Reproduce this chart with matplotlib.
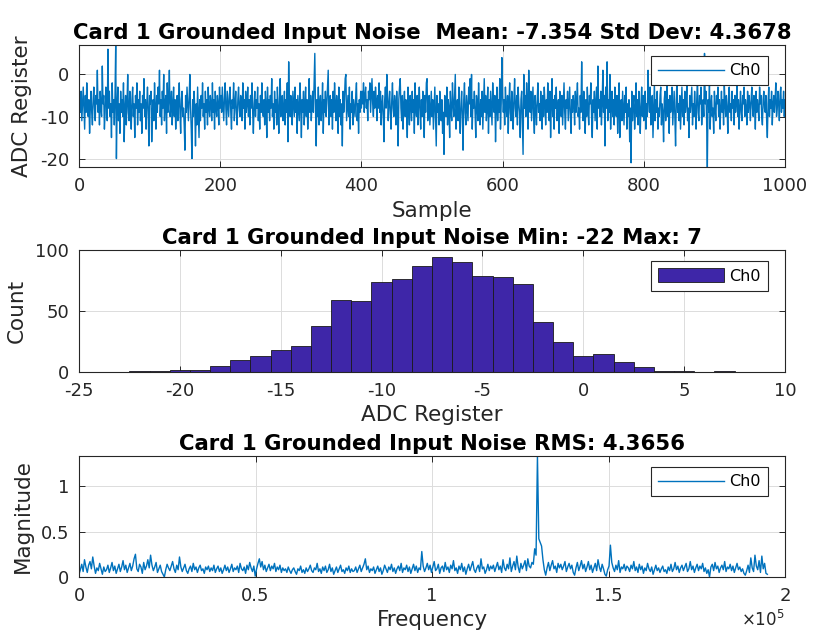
import numpy as np
import matplotlib
matplotlib.use('Agg')
import matplotlib.pyplot as plt
from matplotlib.ticker import FuncFormatter

plt.rcParams['font.family'] = ['DejaVu Sans']
plt.rcParams['axes.unicode_minus'] = False

# ---- data ----
fs = 390000
n_samples = 1000

# ADC register readings (sample 1..1000)
ch0_samples = [
    -6, -9, -4, -11, -7, -3, -8, -13, -5, -9, -2, -7, -10, -6, -14, -8, -4, -9, -12, -6,
    -3, -8, -11, -5, -7, 1, -9, -6, -12, -4, -8, -10, 2, -7, -5, -13, -9, -3, -6, -11,
    6, -8, -4, -10, -7, -15, -2, -9, -6, -12, -5, 7, -20, -8, -3, -11, -7, -14, -4, -9,
    -6, -10, -2, -16, -8, -5, -12, -7, 0, -9, -11, -4, -8, -13, -6, -3, -10, -7, -15, -5,
    -8, -2, -12, -6, -9, -4, -11, -7, -14, -5, -8, -1, -10, -6, -13, -7, -3, -9, -17, -5,
    -7, -4, -16, -9, -6, -11, -2, -8, -13, -5, -9, -3, -7, 1, -10, -6, -12, -4, -8, 0,
    -11, -7, -5, -14, -2, -9, -6, 1, -10, -8, -4, -12, -7, -3, -10, -6, -13, -8, -5, -11,
    -7, -2, -9, -14, -6, -4, -10, -8, -12, -18, -5, -9, -3, -7, -11, -6, 0, -8, -13, -20,
    -6, -10, -4, -8, -17, -7, -12, -3, -9, -15, -6, -11, -5, -8, -2, -10, -7, -13, -4, -9,
    -6, -12, -3, -8, -10, -5, -7, -11, -2, -9, -6, -13, -4, -8, -10, -5, -7, -12, -3, -8,
    -5, -9, -3, -7, -11, -6, -2, -8, -12, -4, -7, -10, -5, -3, -9, -13, -6, -8, -2, -11,
    -7, -4, -9, -12, -6, -3, -8, -10, -5, -7, -11, -2, -8, -6, -13, -4, -9, -7, -3, -10,
    -6, -12, -5, -8, -2, -9, -14, -7, -4, -10, -6, -8, -3, -11, -7, -13, -5, -9, -2, -8,
    -10, -6, -12, -4, -7, -15, -3, -9, -6, -11, -5, -8, -1, -10, -7, -13, -4, -9, -6, -12,
    -3, -8, -14, -6, -1, -10, -7, -5, -11, -8, -4, -12, -6, -9, -2, -16, 3, -7, -10, -5,
    -8, -12, -4, -7, -10, -3, -9, -6, -14, -5, -8, -11, -2, -7, -15, -6, -9, -4, -12, -7,
    -3, -10, -6, -13, -8, -1, -9, -5, -11, -7, -4, -9, -2, 5, -8, -17, -6, -10, -3, -12,
    -7, -5, -11, -8, -2, -14, -6, -9, -4, -10, -7, -3, 1, -12, -8, -5, -10, -6, -13, -4,
    -9, -2, -7, -11, -5, -8, -14, -3, -10, -6, -12, -7, -17, -4, -9, -6, -1, 0, -11, -8,
    -5, -10, -3, -13, -7, -9, -4, -12, -6, -8, -10, -5, -2, -11, -7, -14, -6, -9, -4, -8,
    -4, -7, -2, -9, -5, -3, -8, -6, -11, -4, -6, -2, -9, -5, -1, -7, -10, -4, -8, -3,
    -6, -11, -5, -8, -2, -9, -4, -12, -7, -5, -10, -16, -6, -3, -8, 0, -5, -11, -7, -4,
    -9, -13, -6, -2, -8, -10, -5, -7, -12, -4, -9, -17, -6, -3, -1, -8, -11, -5, -13, -7,
    -4, -10, -6, -9, -15, -3, -8, -12, -5, -7, -11, -4, -9, -6, -14, -2, -8, -10, -5, -12,
    -7, -3, -9, -13, -6, -10, -4, -8, -15, -5, -9, -2, -1, -11, -7, -5, -12, -8, -4, -10,
    -6, -13, -8, -3, -10, -17, -5, -9, -7, -12, -4, -8, -11, -6, -14, -9, -19, -5, -7, -10,
    -3, -12, -6, -8, -15, -4, -9, -11, -2, -7, -10, -5, 0, -13, -8, -6, -11, -3, -9, -14,
    -7, -4, -10, -18, -6, -2, -9, -12, -5, -8, -11, -3, -7, -1, -10, 0, -13, -6, -8, -4,
    -9, -15, -5, -7, -11, -2, -8, -12, -6, -10, -4, -13, -7, -1, -9, -5, -11, -8, -3, -14,
    -6, -10, -4, -8, -12, -2, -7, -9, -5, -16, -8, -3, -11, -6, -9, -1, -13, -7, 4, -5,
    -9, -6, -12, -3, -8, -10, -5, -14, -7, -2, -9, -11, -4, -7, -13, -6, -1, -8, -10, -5,
    -12, -3, -7, -9, -15, -6, -4, -11, -19, 0, -8, -5, -10, -2, -7, -13, 1, -6, -9, -4,
    -11, -7, -3, -10, -14, -5, -8, -12, -6, -2, -9, -7, -11, -4, -8, -13, -5, -10, -3, -7,
    -12, -6, -9, -2, -8, -11, -4, -15, -7, -1, -10, -6, -13, -5, -8, -3, -11, -9, -6, -14,
    -4, -8, -10, -5, -12, -7, -2, -9, -13, -6, -8, -4, -11, -7, -3, -10, -14, -6, -9, -5,
    -7, -12, -4, -9, -6, -2, -10, -8, -13, -5, -9, 3, -7, -11, -4, -8, -14, -6, -10, -3,
    -8, -12, -5, -7, -2, -10, -15, -6, -9, -4, -11, -7, -3, -13, 2, -8, -6, -10, -4, -12,
    -7, 1, -9, -5, -17, -3, -8, 3, -11, -6, -9, 0, -13, -7, -4, -10, -6, -12, -3, -8,
    -10, -5, -14, -7, -2, -15, -9, -6, -11, -4, -8, -12, -5, -9, -3, -13, -7, -10, -6, -16,
    -8, -21, -4, -11, -7, -5, -13, -9, -2, -10, -6, -12, -4, -8, -14, -7, -3, -10, -5, -11,
    -8, -4, -13, -7, -10, 1, -6, -9, -3, -12, -7, -5, -15, -8, -2, -11, -6, -9, -4, -13,
    -8, -10, -5, -3, -12, -7, -9, -16, -6, -4, -11, -8, -2, -10, -6, -14, -5, -9, -7, -3,
    -12, -8, -4, -10, -17, -6, -1, -9, -7, -11, -5, -13, -8, -3, -10, -6, -12, -4, -9, -7,
    -2, -11, -8, -15, -5, -9, -6, -3, -12, -7, -10, -4, -8, -13, -6, -1, -9, -11, -5, -7,
    -3, -12, -8, -6, -10, 5, -7, -4, -11, -22, -6, -9, -2, -13, -7, -5, -10, -8, -14, -4,
    -8, -11, -5, -7, -3, -10, -6, -13, -8, -4, -9, -6, -12, -2, -7, -10, -5, -8, -14, -6,
    -3, -9, -7, -11, -4, -8, -6, -12, -5, -9, -7, -2, -10, -6, -13, -8, -4, -9, -11, -5,
    -7, -3, -10, -6, -8, -12, -4, -9, -5, -7, -11, -6, -3, -8, -10, -5, -7, -13, -4, -9,
    -6, -8, -11, -3, -7, -5, -10, -12, -6, -4, -8, -9, -5, -11, -15, -7, -3, -10, -6, -8,
    -4, -12, -7, -5, -9, -6, -2, -10, -8, -4, -7, -11, -5, -3, -9, -6, -8, -4, -10, -6,
]

# histogram: one bin per ADC code
hist_codes = list(range(-22, 8))
hist_counts = [1, 1, 2, 2, 5, 10, 13, 18, 21, 38, 59, 58, 74, 76, 87,
               94, 90, 79, 78, 72, 41, 25, 13, 15, 8, 4, 1, 1, 0, 1]

# single-sided spectrum magnitude, bins 0..500 (fs/n_samples spacing)
spectrum_mag = [
    0.03, 0.08, 0.14, 0.06, 0.19, 0.11, 0.05, 0.13, 0.17, 0.09, 0.22, 0.12, 0.04, 0.10, 0.07, 0.15, 0.09, 0.03, 0.11, 0.06,
    0.08, 0.13, 0.05, 0.10, 0.16, 0.07, 0.12, 0.04, 0.09, 0.14, 0.06, 0.11, 0.18, 0.08, 0.13, 0.05, 0.10, 0.15, 0.07, 0.12,
    0.20, 0.25, 0.09, 0.06, 0.14, 0.11, 0.04, 0.16, 0.08, 0.12, 0.19, 0.10, 0.24, 0.13, 0.07, 0.11, 0.16, 0.05, 0.09, 0.13,
    0.06, 0.03, 0.00, 0.08, 0.14, 0.10, 0.07, 0.12, 0.17, 0.09, 0.05, 0.13, 0.08, 0.22, 0.11, 0.06, 0.10, 0.14, 0.07, 0.04,
    0.09, 0.12, 0.06, 0.15, 0.08, 0.11, 0.05, 0.10, 0.13, 0.07, 0.09, 0.04, 0.11, 0.08, 0.12, 0.06, 0.10, 0.07, 0.13, 0.05,
    0.09, 0.12, 0.06, 0.10, 0.04, 0.08, 0.13, 0.07, 0.11, 0.05, 0.09, 0.14, 0.06, 0.10, 0.08, 0.12, 0.05, 0.15, 0.09, 0.07,
    0.11, 0.04, 0.13, 0.08, 0.16, 0.10, 0.06, 0.12, 0.01, 0.09, 0.15, 0.20, 0.11, 0.17, 0.08, 0.13, 0.06, 0.10, 0.14, 0.07,
    0.12, 0.09, 0.15, 0.06, 0.11, 0.08, 0.13, 0.05, 0.10, 0.07, 0.09, 0.05, 0.11, 0.07, 0.04, 0.08, 0.10, 0.06, 0.03, 0.09,
    0.07, 0.12, 0.05, 0.08, 0.04, 0.10, 0.06, 0.09, 0.13, 0.07, 0.05, 0.10, 0.08, 0.15, 0.06, 0.09, 0.04, 0.11, 0.07, 0.12,
    0.05, 0.08, 0.14, 0.06, 0.10, 0.03, 0.07, 0.11, 0.05, 0.09, 0.13, 0.06, 0.08, 0.04, 0.10, 0.07, 0.12, 0.05, 0.09, 0.06,
    0.07, 0.11, 0.05, 0.09, 0.13, 0.06, 0.10, 0.14, 0.20, 0.08, 0.12, 0.05, 0.09, 0.07, 0.11, 0.04, 0.08, 0.12, 0.06, 0.10,
    0.03, 0.07, 0.13, 0.09, 0.05, 0.11, 0.08, 0.14, 0.06, 0.10, 0.04, 0.09, 0.12, 0.07, 0.15, 0.05, 0.10, 0.08, 0.13, 0.06,
    0.11, 0.04, 0.09, 0.14, 0.07, 0.12, 0.05, 0.10, 0.08, 0.28, 0.12, 0.06, 0.10, 0.15, 0.08, 0.13, 0.05, 0.11, 0.17, 0.07,
    0.09, 0.14, 0.04, 0.10, 0.12, 0.06, 0.16, 0.08, 0.11, 0.05, 0.13, 0.09, 0.18, 0.07, 0.10, 0.04, 0.12, 0.08, 0.15, 0.06,
    0.11, 0.03, 0.09, 0.14, 0.07, 0.12, 0.17, 0.08, 0.05, 0.10, 0.13, 0.06, 0.20, 0.09, 0.11, 0.04, 0.08, 0.14, 0.07, 0.12,
    0.09, 0.13, 0.06, 0.11, 0.16, 0.08, 0.12, 0.05, 0.19, 0.10, 0.07, 0.14, 0.09, 0.21, 0.06, 0.12, 0.17, 0.08, 0.23, 0.11,
    0.05, 0.15, 0.09, 0.13, 0.18, 0.07, 0.20, 0.12, 0.10, 0.16, 0.14, 0.31, 0.24, 1.33, 0.42, 0.38, 0.34, 0.19, 0.08, 0.02,
    0.10, 0.16, 0.07, 0.13, 0.18, 0.09, 0.12, 0.05, 0.15, 0.10, 0.14, 0.08, 0.12, 0.17, 0.06, 0.11, 0.15, 0.09, 0.13, 0.05,
    0.02, 0.10, 0.16, 0.07, 0.12, 0.18, 0.09, 0.14, 0.06, 0.11, 0.17, 0.08, 0.13, 0.05, 0.10, 0.15, 0.07, 0.19, 0.11, 0.06,
    0.14, 0.09, 0.03, 0.01, 0.08, 0.12, 0.35, 0.16, 0.10, 0.06, 0.13, 0.08, 0.18, 0.05, 0.11, 0.09, 0.14, 0.07, 0.12, 0.10,
    0.06, 0.13, 0.09, 0.17, 0.07, 0.11, 0.05, 0.14, 0.08, 0.12, 0.04, 0.10, 0.07, 0.15, 0.09, 0.06, 0.11, 0.03, 0.08, 0.13,
    0.07, 0.10, 0.05, 0.09, 0.12, 0.06, 0.08, 0.04, 0.11, 0.07, 0.14, 0.06, 0.09, 0.16, 0.08, 0.12, 0.05, 0.10, 0.13, 0.07,
    0.11, 0.15, 0.06, 0.09, 0.17, 0.08, 0.12, 0.05, 0.10, 0.14, 0.07, 0.12, 0.09, 0.15, 0.06, 0.10, 0.04, 0.08, 0.00, 0.11,
    0.14, 0.07, 0.16, 0.09, 0.12, 0.05, 0.10, 0.13, 0.08, 0.17, 0.06, 0.11, 0.09, 0.14, 0.07, 0.12, 0.05, 0.10, 0.15, 0.08,
    0.11, 0.06, 0.09, 0.04, 0.02, 0.07, 0.13, 0.05, 0.21, 0.10, 0.06, 0.24, 0.12, 0.08, 0.18, 0.05, 0.23, 0.09, 0.15, 0.04,
    0.03,
]

title_top = 'Card 1 Grounded Input Noise  Mean: -7.354 Std Dev: 4.3678'
title_mid = 'Card 1 Grounded Input Noise Min: -22 Max: 7'
title_bot = 'Card 1 Grounded Input Noise RMS: 4.3656'

# ---- style ----
line_c = '#0072BD'
bar_c = '#3E26A8'
ax_c = '#262626'
tick_fs = 13
lab_fs = 15.5
ttl_fs = 15.3
leg_fs = 11.5

W, H = 813, 634
fig = plt.figure(figsize=(W / 100, H / 100), dpi=100)


def make_ax(top_px, bot_px):
    ax = fig.add_axes([79 / W, 1 - bot_px / H, 706 / W, (bot_px - top_px) / H])
    for s in ax.spines.values():
        s.set_color(ax_c)
        s.set_linewidth(0.8)
    ax.tick_params(direction='in', length=4, width=0.7, colors=ax_c,
                   labelsize=tick_fs, top=True, right=True, pad=7)
    ax.grid(True, color='#dcdcdc', linewidth=0.7)
    ax.set_axisbelow(True)
    return ax


def legend(ax, **kw):
    lg = ax.legend(loc='upper right', fontsize=leg_fs, fancybox=False,
                   edgecolor=ax_c, framealpha=1, borderpad=0.45,
                   handlelength=4.1, handletextpad=0.35, borderaxespad=0,
                   bbox_to_anchor=(1 - 17 / 706, 1 - 11 / 122), **kw)
    lg.get_frame().set_linewidth(0.8)
    return lg


# time series
ax1 = make_ax(45, 167)
x = np.arange(1, len(ch0_samples) + 1)
ax1.plot(x, ch0_samples, color=line_c, lw=1.0, label='Ch0')
ax1.set_xlim(0, 1000)
ax1.set_ylim(-22, 7)
ax1.set_xticks(range(0, 1001, 200))
ax1.set_yticks([-20, -10, 0])
ax1.set_xlabel('Sample', fontsize=lab_fs, color=ax_c, labelpad=4.5)
ax1.set_ylabel('ADC Register', fontsize=lab_fs, color=ax_c, labelpad=6)
ax1.set_title(title_top, fontsize=ttl_fs, fontweight='bold', pad=4)
legend(ax1)

# histogram
ax2 = make_ax(250, 372)
ax2.bar(hist_codes, hist_counts, width=1, color=bar_c, edgecolor='#1a1a1a',
        linewidth=0.6, label='Ch0')
ax2.set_xlim(-25, 10)
ax2.set_ylim(0, 100)
ax2.set_xticks(range(-25, 11, 5))
ax2.set_yticks([0, 50, 100])
ax2.set_xlabel('ADC Register', fontsize=lab_fs, color=ax_c, labelpad=3.5)
ax2.set_ylabel('Count', fontsize=lab_fs, color=ax_c, labelpad=6)
ax2.set_title(title_mid, fontsize=ttl_fs, fontweight='bold', pad=4)
legend(ax2, handleheight=1.0)

# spectrum
ax3 = make_ax(456, 577)
freq = np.arange(len(spectrum_mag)) * fs / n_samples
ax3.plot(freq, spectrum_mag, color=line_c, lw=1.0, label='Ch0')
ax3.set_xlim(0, 2e5)
ax3.set_ylim(0, max(spectrum_mag))
ax3.set_xticks([0, 0.5e5, 1e5, 1.5e5, 2e5])
ax3.xaxis.set_major_formatter(FuncFormatter(lambda v, p: '%g' % (v / 1e5)))
ax3.set_yticks([0, 0.5, 1])
ax3.yaxis.set_major_formatter(FuncFormatter(lambda v, p: '%g' % v))
ax3.set_xlabel('Frequency', fontsize=lab_fs, color=ax_c, labelpad=4)
ax3.set_ylabel('Magnitude', fontsize=lab_fs, color=ax_c, labelpad=5.5)
ax3.set_title(title_bot, fontsize=ttl_fs, fontweight='bold', pad=4)
ax3.text(1.0, -0.27, r'$\times10^{5}$', transform=ax3.transAxes, ha='right',
         va='top', fontsize=12, color=ax_c)
legend(ax3)

fig.savefig('out.png', dpi=100)
